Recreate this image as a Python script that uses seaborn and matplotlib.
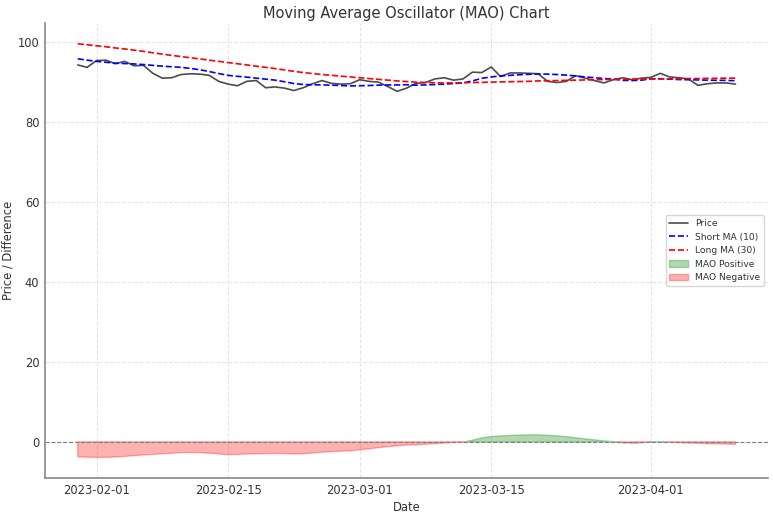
import numpy as np
import pandas as pd
import seaborn as sns
import matplotlib.pyplot as plt
import matplotlib.dates as mdates

# --- data ---
dates = pd.date_range("2023-01-30", "2023-04-10", freq="D")

price = [94.3, 93.7, 95.4, 95.5, 94.6, 95.2, 94.1, 94.2, 92.2, 91.0,
         91.1, 91.9, 92.1, 92.0, 91.7, 90.2, 89.5, 89.1, 90.2, 90.4,
         88.6, 88.8, 88.5, 87.9, 88.6, 89.6, 90.4, 89.7, 89.5, 89.6,
         90.6, 90.2, 90.0, 88.9, 87.7, 88.5, 89.7, 89.9, 90.8, 91.1,
         90.5, 90.8, 92.5, 92.4, 93.8, 91.4, 92.3, 92.3, 92.2, 92.1,
         90.2, 89.9, 90.2, 91.6, 91.0, 90.4, 89.8, 90.6, 91.1, 90.6,
         91.0, 91.2, 92.2, 91.3, 91.1, 90.8, 89.2, 89.6, 89.8, 89.8,
         89.5]

short_ma = [95.84, 95.5, 95.2, 94.97, 94.75, 94.65, 94.55, 94.4, 94.2, 94.0,
            93.85, 93.7, 93.43, 93.1, 92.65, 92.15, 91.7, 91.45, 91.25, 91.0,
            90.75, 90.5, 90.1, 89.65, 89.4, 89.35, 89.3, 89.25, 89.15, 89.05,
            89.1, 89.15, 89.25, 89.3, 89.3, 89.35, 89.25, 89.3, 89.4, 89.5,
            89.65, 89.8, 90.3, 90.95, 91.3, 91.55, 91.7, 91.85, 91.95, 92.05,
            92.0, 91.9, 91.75, 91.55, 91.3, 91.1, 90.9, 90.75, 90.45, 90.4,
            90.5, 90.82, 90.85, 90.75, 90.65, 90.6, 90.55, 90.5, 90.45, 90.45,
            90.35]

long_ma = [99.6, 99.35, 99.1, 98.85, 98.55, 98.3, 98.0, 97.7, 97.35, 97.0,
           96.7, 96.4, 96.1, 95.8, 95.5, 95.2, 94.9, 94.6, 94.3, 94.0,
           93.7, 93.4, 93.05, 92.7, 92.4, 92.15, 91.9, 91.7, 91.5, 91.3,
           91.1, 90.9, 90.7, 90.5, 90.3, 90.15, 90.0, 89.9, 89.85, 89.8,
           89.8, 89.85, 89.9, 89.95, 90.0, 90.05, 90.1, 90.15, 90.2, 90.3,
           90.35, 90.4, 90.45, 90.5, 90.55, 90.6, 90.65, 90.7, 90.7, 90.75,
           90.75, 90.8, 90.8, 90.85, 90.85, 90.9, 90.9, 90.95, 90.95, 91.0,
           91.0]

df = pd.DataFrame({"Date": dates, "Price": price,
                   "Short": short_ma, "Long": long_ma})
df["MAO"] = df["Short"] - df["Long"]

# --- style ---
sns.set_style("whitegrid", {"grid.linestyle": "--", "grid.color": "#e6e6e6",
                            "axes.edgecolor": "#888888"})
plt.rcParams["font.family"] = ["DejaVu Sans"]
plt.rcParams["text.color"] = "#333333"
plt.rcParams["axes.labelcolor"] = "#333333"
plt.rcParams["xtick.color"] = "#333333"
plt.rcParams["ytick.color"] = "#333333"

fig, ax = plt.subplots(figsize=(7.73, 5.13), dpi=100)

sns.lineplot(data=df, x="Date", y="Price", ax=ax, color="black", alpha=0.7,
             linewidth=1.2, label="Price")
sns.lineplot(data=df, x="Date", y="Short", ax=ax, color="blue",
             linestyle="--", linewidth=1.2, label="Short MA (10)")
sns.lineplot(data=df, x="Date", y="Long", ax=ax, color="red",
             linestyle="--", linewidth=1.2, label="Long MA (30)")

ax.fill_between(df["Date"], df["MAO"], 0, where=df["MAO"] >= 0,
                color="green", alpha=0.3, interpolate=True, label="MAO Positive")
ax.fill_between(df["Date"], df["MAO"], 0, where=df["MAO"] < 0,
                color="red", alpha=0.3, interpolate=True, label="MAO Negative")
ax.axhline(0, color="gray", linestyle="--", linewidth=0.8)

ax.set_title("Moving Average Oscillator (MAO) Chart", fontsize=10.5, pad=4)
ax.set_xlabel("Date", fontsize=8.3, labelpad=3)
ax.set_ylabel("Price / Difference", fontsize=8.3, labelpad=2)
ax.tick_params(labelsize=8.3, length=0, pad=4)
ax.xaxis.set_major_locator(mdates.DayLocator(bymonthday=[1, 15]))
ax.xaxis.set_major_formatter(mdates.DateFormatter("%Y-%m-%d"))

sns.despine(ax=ax)
for side in ["left", "bottom"]:
    ax.spines[side].set_linewidth(1.2)

ax.legend(loc="center right", fontsize=6.6, frameon=True)

plt.subplots_adjust(left=0.058, right=0.994, top=0.955, bottom=0.068)
plt.savefig("out.png", dpi=100)
plt.close()
